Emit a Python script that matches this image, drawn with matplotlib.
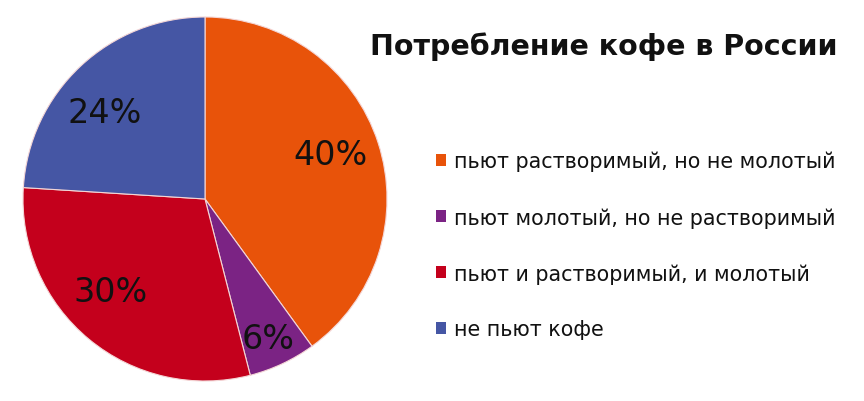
import numpy as np
import matplotlib
matplotlib.use("Agg")
import matplotlib.pyplot as plt
from matplotlib.patches import Patch

categories = [
    "пьют растворимый, но не молотый",
    "пьют молотый, но не растворимый",
    "пьют и растворимый, и молотый",
    "не пьют кофе",
]
shares = [40, 6, 30, 24]
colors = ["#E8530A", "#7B2384", "#C4001C", "#4556A4"]
title = "Потребление кофе в России"

# label placement per wedge: radius factor and angular nudge (degrees)
label_radius = [0.73, 0.84, 0.73, 0.73]
label_nudge = [1.5, -1.0, -6.0, 6.0]

plt.rcParams["font.family"] = ["DejaVu Sans"]

W, H = 864, 402
fig = plt.figure(figsize=(W / 100, H / 100), dpi=100)
fig.patch.set_facecolor("white")

cx, cy, R = 205, 200, 182
ax = fig.add_axes([(cx - R) / W, (H - cy - R) / H, 2 * R / W, 2 * R / H])
wedges, _ = ax.pie(
    shares, colors=colors, startangle=90, counterclock=False, radius=1.0,
    wedgeprops=dict(edgecolor="#F4D6D6", linewidth=0.8),
)
ax.set_xlim(-1, 1)
ax.set_ylim(-1, 1)
ax.set_aspect("equal")
ax.axis("off")

for w, v, rf, nd in zip(wedges, shares, label_radius, label_nudge):
    ang = np.deg2rad((w.theta1 + w.theta2) / 2 + nd)
    ax.text(rf * np.cos(ang), rf * np.sin(ang), f"{v}%", ha="center", va="center",
            fontsize=24, color="#111111")

fig.text(838 / W, 1 - 47 / H, title, ha="right", va="center",
         fontsize=20.5, fontweight="bold", color="#111111")

handles = [Patch(facecolor=c, edgecolor="none") for c in colors]
leg = fig.legend(handles, categories, loc="upper left",
                 bbox_to_anchor=(436 / W, 1 - 152 / H), frameon=False,
                 fontsize=14.9, handlelength=0.5, handleheight=0.5,
                 handletextpad=0.35, labelspacing=1.72, borderpad=0, borderaxespad=0)
for t in leg.get_texts():
    t.set_color("#111111")

fig.savefig("out.png", dpi=100, facecolor="white")
